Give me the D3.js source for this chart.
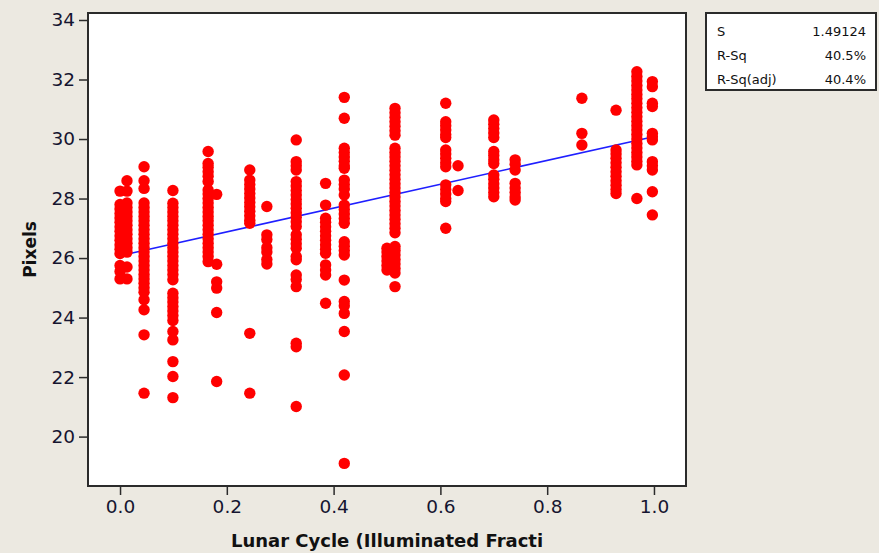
<!DOCTYPE html>
<html>
<head>
<meta charset="utf-8">
<script src="https://cdn.jsdelivr.net/npm/d3@7"></script>
<style>
	html, body { margin: 0; padding: 0; background: #ECE9E1; }
	text { font-family: "DejaVu Sans", Verdana, sans-serif; }
</style>
</head>
<body>
<div id="chart"></div>
<script>
var RADIUS = 5.7;

// illuminated fraction of each observation night
var phases = [0.0, 0.013, 0.045, 0.099, 0.165, 0.181, 0.243, 0.275, 0.33, 0.385,
			0.42, 0.5, 0.515, 0.61, 0.633, 0.70, 0.74, 0.865, 0.929, 0.968, 0.997];

// pixel measurements per night (same order as phases)
var pixels = [
	[28.25, 27.8, 27.65, 27.5, 27.35, 27.2, 27.05, 26.9, 26.75, 26.6, 26.45, 26.3, 26.15, 25.75, 25.55, 25.3],
	[28.6, 28.25, 27.85, 27.7, 27.55, 27.4, 27.25, 27.1, 26.95, 26.8, 26.65, 26.5, 26.35, 26.2, 25.7, 25.3],
	[29.07, 28.6, 28.34, 27.85, 27.7, 27.55, 27.4, 27.25, 27.1, 26.95, 26.8, 26.65, 26.5, 26.35, 26.2, 26.05, 25.9, 25.75, 25.6, 25.45, 25.3, 25.15, 25.0, 24.85, 24.6, 24.26, 23.42, 21.46],
	[28.27, 27.84, 27.7, 27.55, 27.4, 27.25, 27.1, 26.95, 26.8, 26.65, 26.5, 26.35, 26.2, 26.05, 25.9, 25.75, 25.6, 25.45, 25.27, 24.82, 24.67, 24.52, 24.37, 24.22, 24.07, 23.9, 23.53, 23.25, 22.52, 22.02, 21.31],
	[29.58, 29.18, 29.05, 28.9, 28.75, 28.57, 28.29, 28.15, 28.0, 27.85, 27.7, 27.55, 27.4, 27.25, 27.1, 26.95, 26.8, 26.65, 26.5, 26.35, 26.2, 26.05, 25.88],
	[28.14, 25.79, 25.2, 24.99, 24.17, 21.85],
	[28.96, 28.62, 28.47, 28.32, 28.17, 28.02, 27.87, 27.72, 27.57, 27.42, 27.27, 27.17, 23.47, 21.46],
	[27.73, 26.78, 26.62, 26.35, 26.2, 25.95, 25.8],
	[29.97, 29.24, 29.1, 28.96, 28.57, 28.42, 28.27, 28.12, 27.97, 27.82, 27.67, 27.52, 27.37, 27.22, 27.06, 26.78, 26.63, 26.48, 26.33, 26.05, 25.94, 25.43, 25.28, 25.04, 23.14, 23.02, 21.01],
	[28.51, 27.78, 27.34, 27.2, 27.05, 26.9, 26.75, 26.6, 26.45, 26.3, 26.16, 25.77, 25.6, 25.43, 24.48],
	[31.4, 30.7, 29.69, 29.55, 29.4, 29.25, 29.1, 29.02, 28.62, 28.47, 28.32, 28.12, 27.78, 27.63, 27.48, 27.33, 27.17, 26.55, 26.4, 26.25, 26.1, 25.26, 24.54, 24.4, 24.14, 23.53, 22.07, 19.1],
	[26.33, 26.2, 26.05, 25.9, 25.75, 25.6],
	[31.03, 30.88, 30.73, 30.58, 30.43, 30.28, 30.13, 29.69, 29.55, 29.4, 29.25, 29.1, 28.95, 28.8, 28.65, 28.5, 28.35, 28.2, 28.05, 27.9, 27.75, 27.6, 27.45, 27.3, 27.15, 27.0, 26.85, 26.39, 26.25, 26.1, 25.95, 25.8, 25.65, 25.5, 25.04],
	[31.2, 30.58, 30.45, 30.3, 30.15, 30.05, 29.63, 29.5, 29.35, 29.2, 29.07, 28.46, 28.3, 28.15, 28.0, 27.9, 27.0],
	[29.1, 28.27],
	[30.64, 30.5, 30.35, 30.2, 30.05, 29.58, 29.45, 29.3, 29.18, 28.79, 28.65, 28.5, 28.35, 28.2, 28.06],
	[29.3, 29.15, 28.96, 28.51, 28.35, 28.2, 28.05, 27.95],
	[31.37, 30.19, 29.8],
	[30.97, 29.63, 29.5, 29.35, 29.2, 29.05, 28.9, 28.75, 28.6, 28.45, 28.3, 28.17],
	[32.26, 32.1, 31.95, 31.8, 31.65, 31.5, 31.35, 31.2, 31.05, 30.9, 30.75, 30.6, 30.45, 30.3, 30.15, 30.0, 29.85, 29.7, 29.55, 29.4, 29.25, 29.13, 28.0],
	[31.93, 31.76, 31.2, 31.09, 30.19, 30.08, 29.97, 29.24, 29.1, 28.96, 28.23, 27.45]
];

var xTicks = [0.0, 0.2, 0.4, 0.6, 0.8, 1.0];
var yTicks = [20, 22, 24, 26, 28, 30, 32, 34];

// fitted line: Pixels = 26.08 + 4.0 Lunar
var INTERCEPT = 26.08;
var SLOPE = 4.0;

var statLabels = ["S", "R-Sq", "R-Sq(adj)"];
var statValues = ["1.49124", "40.5%", "40.4%"];

var points = [];
phases.forEach(function(p, i) {
	pixels[i].forEach(function(v) { points.push({ x: p, y: v }); });
});

var W = 879, H = 553;
var frame = { left: 88, right: 686, top: 13, bottom: 486 };

var xScale = d3.scaleLinear().domain([-0.06, 1.06]).range([frame.left, frame.right]);
var yScale = d3.scaleLinear().domain([18.34, 34.235]).range([frame.bottom, frame.top]);

var mySVG = d3.select("#chart")
				.append("svg")
				.attr("width", W)
				.attr("height", H);

mySVG.append("rect")
		.attr("width", W)
		.attr("height", H)
		.style("fill", "#ECE9E1");

mySVG.append("rect")
		.attr("x", frame.left)
		.attr("y", frame.top)
		.attr("width", frame.right - frame.left)
		.attr("height", frame.bottom - frame.top)
		.style("fill", "#ffffff")
		.style("stroke", "#2b2b2b")
		.style("stroke-width", 2);

// regression line (under the points)
var xMin = d3.min(phases), xMax = d3.max(phases);
mySVG.append("line")
		.attr("x1", xScale(xMin))
		.attr("y1", yScale(INTERCEPT + SLOPE * xMin))
		.attr("x2", xScale(xMax))
		.attr("y2", yScale(INTERCEPT + SLOPE * xMax))
		.style("stroke", "#1f1fff")
		.style("stroke-width", 1.6);

mySVG.selectAll("circle.pt")
		.data(points)
		.enter().append("circle")
		.attr("class", "pt")
		.attr("r", RADIUS)
		.attr("cx", function(d) { return xScale(d.x); })
		.attr("cy", function(d) { return yScale(d.y); })
		.style("fill", "#ff0000");

// axes
var xAxis = d3.axisBottom(xScale)
				.tickValues(xTicks)
				.tickFormat(d3.format(".1f"))
				.tickSize(8)
				.tickPadding(5);

var yAxis = d3.axisLeft(yScale)
				.tickValues(yTicks)
				.tickSize(8)
				.tickPadding(4);

var gx = mySVG.append("g")
		.attr("transform", "translate(0," + (frame.bottom + 1) + ")")
		.call(xAxis);

var gy = mySVG.append("g")
		.attr("transform", "translate(" + (frame.left - 1) + ",0)")
		.call(yAxis);

[gx, gy].forEach(function(g) {
	g.select(".domain").remove();
	g.selectAll(".tick line").style("stroke", "#2b2b2b").style("stroke-width", 1.5);
	g.selectAll(".tick text")
		.style("font-size", "18.5px")
		.style("fill", "#151530")
		.style("font-family", "'DejaVu Sans', Verdana, sans-serif");
});

mySVG.append("text")
		.attr("x", (frame.left + frame.right) / 2)
		.attr("y", 547)
		.attr("text-anchor", "middle")
		.style("font-size", "18px")
		.style("font-weight", "bold")
		.style("fill", "#111")
		.text("Lunar Cycle (Illuminated Fracti");

mySVG.append("text")
		.attr("transform", "translate(36," + ((frame.top + frame.bottom) / 2) + ") rotate(-90)")
		.attr("text-anchor", "middle")
		.style("font-size", "17px")
		.style("font-weight", "bold")
		.style("fill", "#111")
		.text("Pixels");

// statistics box
var legend = mySVG.append("g");

legend.append("rect")
		.attr("x", 706)
		.attr("y", 13)
		.attr("width", 170)
		.attr("height", 77)
		.style("fill", "#ffffff")
		.style("stroke", "#2b2b2b")
		.style("stroke-width", 2);

legend.selectAll("text.lab")
		.data(statLabels)
		.enter().append("text")
		.attr("class", "lab")
		.attr("x", 717)
		.attr("y", function(d, i) { return 36 + i * 24; })
		.style("font-size", "13px")
		.style("fill", "#111")
		.text(function(d) { return d; });

legend.selectAll("text.val")
		.data(statValues)
		.enter().append("text")
		.attr("class", "val")
		.attr("x", 866)
		.attr("y", function(d, i) { return 36 + i * 24; })
		.attr("text-anchor", "end")
		.style("font-size", "13px")
		.style("fill", "#111")
		.text(function(d) { return d; });
</script>
</body>
</html>
